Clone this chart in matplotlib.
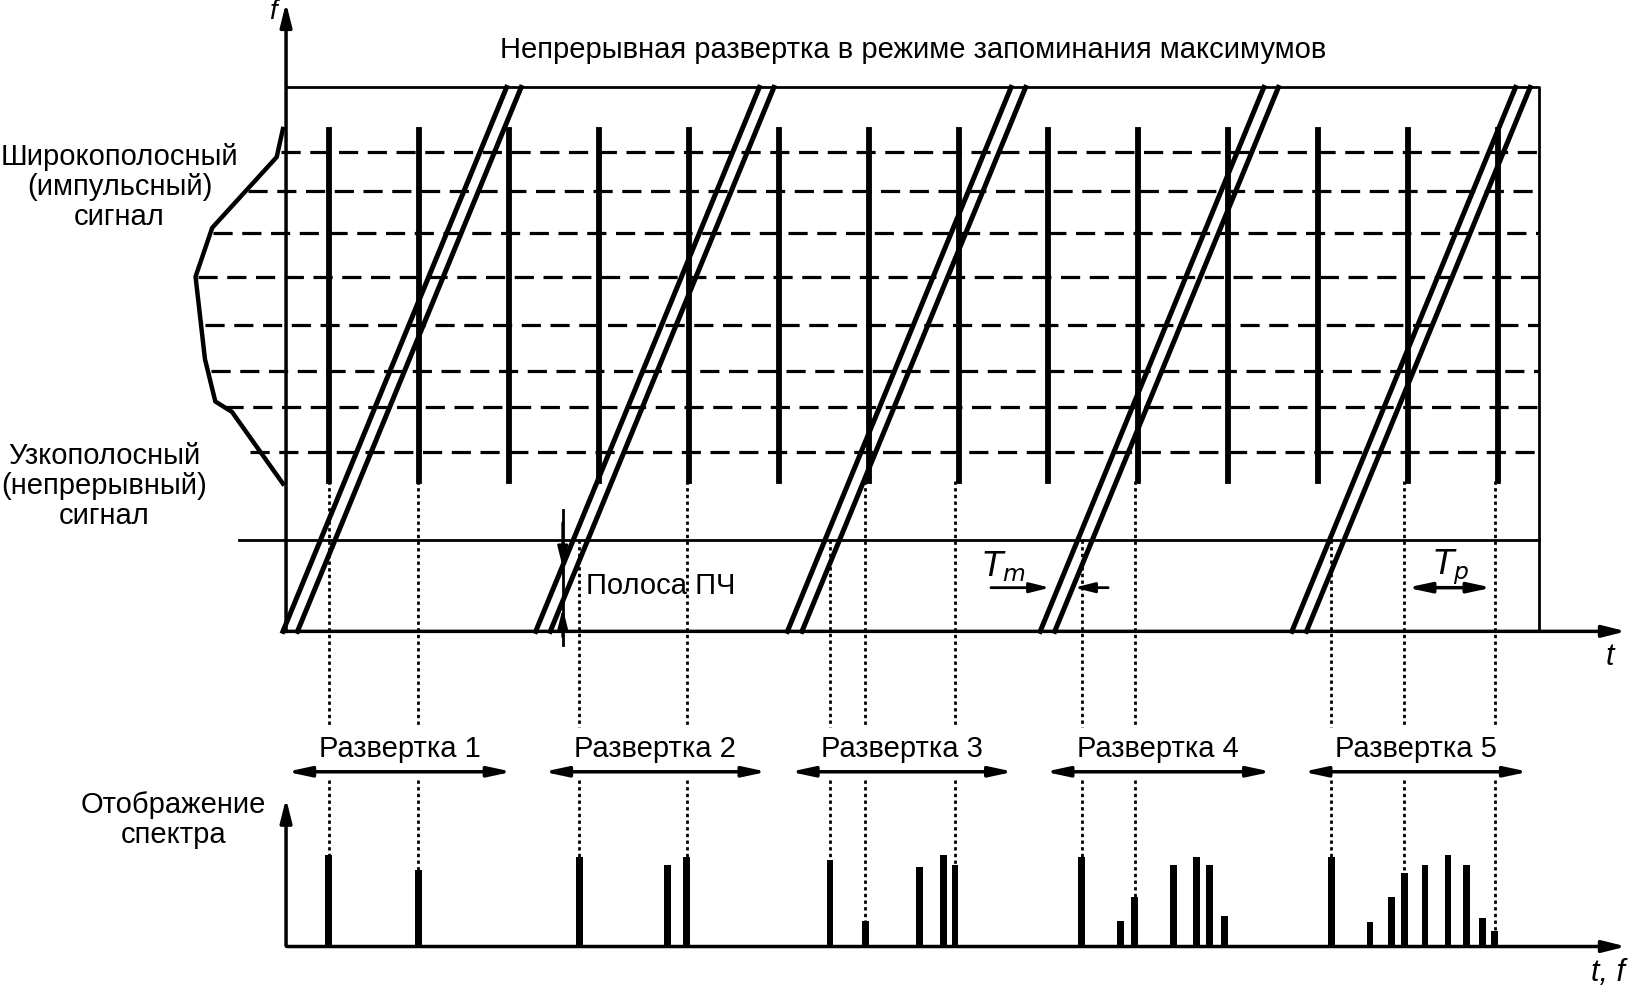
import numpy as np
import matplotlib.pyplot as plt

plt.rcParams['font.family'] = 'Liberation Sans'

# geometry is in reference pixel units (1568 x 947 grid)
dash_y = [146, 184, 224, 266, 312, 357, 391, 435]
dash_x0 = [270, 238, 205, 190, 197, 203, 215, 240]
bar_x = [316 + 86.5 * k for k in range(14)]
sweep_x0 = [272, 515, 757, 1000, 1242]
sweep_names = ['Развертка 1', 'Развертка 2', 'Развертка 3', 'Развертка 4', 'Развертка 5']
sweep_span = [(273, 495), (520, 740), (757, 977), (1002, 1225), (1250, 1472)]
curve_x = [272, 266, 204, 188, 197, 207, 223, 272]
curve_y = [124, 151, 219, 266, 345, 386, 396, 465]
dot_x = [316, 402, 557, 660, 798, 832, 918, 1040, 1091, 1280, 1350, 1437]
dot_y0 = [462, 462, 519, 462, 519, 462, 462, 519, 462, 519, 462, 462]
spec_x = [316, 402, 557, 642, 660, 798, 832, 884, 907, 918,
          1040, 1077, 1091, 1128, 1150, 1163, 1177,
          1280, 1317, 1338, 1350, 1370, 1392, 1410, 1425, 1437]
spec_top = [822, 836, 824, 832, 824, 827, 885, 834, 822, 832,
            824, 885, 862, 832, 824, 832, 881,
            824, 886, 862, 839, 832, 822, 832, 883, 895]

fig = plt.figure(figsize=(16.31, 9.85), dpi=100)
ax = fig.add_axes([0, 0, 1, 1])
ax.set_xlim(0, 1568)
ax.set_ylim(947, 0)
ax.axis('off')
k = 'black'
fs = 21
ar = dict(arrowstyle='-|>,head_length=1.4,head_width=0.35', color=k, lw=2.5)

# main axes
ax.annotate('', xy=(275, 0), xytext=(275, 610), arrowprops=ar)
ax.annotate('', xy=(1566, 607), xytext=(273, 607), arrowprops=ar)
ax.plot([275, 1480, 1480], [84, 84, 607], color=k, lw=2)
ax.plot([230, 1480], [519, 519], color=k, lw=2)

for y, x0 in zip(dash_y, dash_x0):
    ax.plot([x0, 1480], [y, y], color=k, lw=2.3, dashes=(6, 3))
for x in bar_x:
    ax.plot([x, x], [125, 462], color=k, lw=4.2)
ax.plot(curve_x, curve_y, color=k, lw=3.2, solid_joinstyle='round')

for x0 in sweep_x0:
    for off in (0, 14):
        ax.plot([x0 + off, x0 + off + 215], [607, 84], color=k, lw=3.6)

for x, y0, top in zip(dot_x, dot_y0, [spec_top[spec_x.index(v)] for v in dot_x]):
    ax.plot([x, x], [y0, 699], color=k, lw=2, ls=(0, (1.2, 1.2)))
    ax.plot([x, x], [750, top], color=k, lw=2, ls=(0, (1.2, 1.2)))

# bottom spectrum axes
ax.annotate('', xy=(275, 765), xytext=(275, 912), arrowprops=ar)
ax.annotate('', xy=(1566, 910), xytext=(273, 910), arrowprops=ar)
ax.bar(spec_x, [910 - t for t in spec_top], bottom=spec_top, width=6.5, color=k)

dar = dict(arrowstyle='<|-|>,head_length=1.4,head_width=0.3', color=k, lw=2.5)
for name, (a, b) in zip(sweep_names, sweep_span):
    ax.annotate('', xy=(a, 742), xytext=(b, 742), arrowprops=dar)
    ax.text((a + b) / 2, 720, name, fontsize=fs, ha='center', va='center')

# annotations
ax.text(878, 48, 'Непрерывная развертка в режиме запоминания максимумов',
        fontsize=fs, ha='center', va='center')
ax.text(262, 12, 'f', fontsize=20, style='italic', ha='center', va='center')
ax.text(1548, 632, 't', fontsize=22, style='italic', ha='center', va='center')
ax.text(1546, 935, 't, f', fontsize=22, style='italic', ha='center', va='center')
ax.text(115, 180, 'Широкополосный\n(импульсный)\nсигнал', fontsize=fs,
        ha='center', va='center', linespacing=1.1)
ax.text(100, 467, 'Узкополосный\n(непрерывный)\nсигнал', fontsize=fs,
        ha='center', va='center', linespacing=1.1)
ax.text(167, 788, 'Отображение\nспектра', fontsize=fs, ha='center', va='center',
        linespacing=1.1)

sar = dict(arrowstyle='-|>,head_length=1.2,head_width=0.3', color=k, lw=2)
ax.plot([541, 541], [490, 620], color=k, lw=2)
ax.annotate('', xy=(541, 548), xytext=(541, 500), arrowprops=sar)
ax.annotate('', xy=(541, 582), xytext=(541, 615), arrowprops=sar)
ax.text(563, 563, 'Полоса ПЧ', fontsize=fs, ha='left', va='center')

ax.annotate('', xy=(1012, 565), xytext=(950, 565), arrowprops=sar)
ax.annotate('', xy=(1030, 565), xytext=(1068, 565), arrowprops=sar)
ax.text(965, 545, '$T_m$', fontsize=24, ha='center', va='center')
ax.annotate('', xy=(1350, 565), xytext=(1437, 565), arrowprops=dar)
ax.text(1395, 545, '$T_p$', fontsize=24, ha='center', va='center')

fig.savefig('out.png', dpi=100)
